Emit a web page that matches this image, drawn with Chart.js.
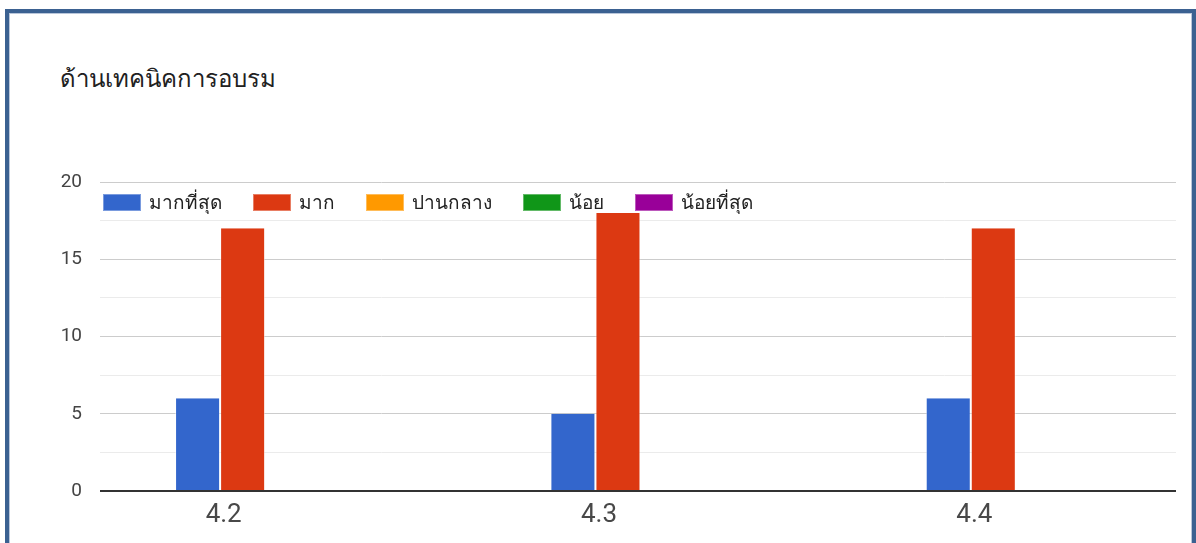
<!DOCTYPE html>
<html>
<head>
<meta charset="utf-8">
<script src="https://cdn.jsdelivr.net/npm/chart.js@4"></script>
<style>
  html, body { margin: 0; padding: 0; background: #fff; width: 1196px; height: 543px; overflow: hidden; }
  #frame { position: absolute; left: 5px; top: 9px; width: 1183px; height: 600px; border: 4px solid #3b6191; box-shadow: inset 1px 1px 0 #b9c6da, inset -1px 0 0 #b9c6da; background: #fff; }
  #title { position: absolute; left: 60px; top: 64px; font-family: Roboto, "Noto Sans", sans-serif; font-size: 24px; line-height: 30px; color: #212121; white-space: nowrap; }
  #clip { position: absolute; left: 0; top: 0; width: 1176px; height: 543px; overflow: hidden; }
  #wrap { position: absolute; left: 0; top: 0; width: 1240px; height: 543px; }
  #legend { position: absolute; left: 103px; top: 192px; display: flex; align-items: center; font-family: Roboto, "Noto Sans", sans-serif; font-size: 19px; line-height: 21px; color: #222; }
  #legend .item { display: flex; align-items: center; margin-right: 31px; }
  #legend .box { width: 38px; height: 17px; margin-right: 8px; box-sizing: border-box; border: 1px solid rgba(255,255,255,0.35); }
</style>
</head>
<body>
<div id="frame"></div>
<div id="title">ด้านเทคนิคการอบรม</div>
<div id="clip"><div id="wrap"><canvas id="c" width="1240" height="543"></canvas></div></div>
<div id="legend"></div>
<script>
const categories = ['4.2', '4.3', '4.4'];
const seriesNames = ['มากที่สุด', 'มาก', 'ปานกลาง', 'น้อย', 'น้อยที่สุด'];
const mostValues = [6, 5, 6];
const muchValues = [17, 18, 17];
const mediumValues = [0, 0, 0];
const fewValues = [0, 0, 0];
const fewestValues = [0, 0, 0];
const seriesColors = ['#3366cc', '#dc3912', '#ff9900', '#109618', '#990099'];
const yTicks = [0, 5, 10, 15, 20];

const seriesValues = [mostValues, muchValues, mediumValues, fewValues, fewestValues];

const legendEl = document.getElementById('legend');
seriesNames.forEach((n, i) => {
  const it = document.createElement('div'); it.className = 'item';
  const b = document.createElement('div'); b.className = 'box'; b.style.background = seriesColors[i];
  const t = document.createElement('span'); t.textContent = n;
  it.appendChild(b); it.appendChild(t); legendEl.appendChild(it);
});

new Chart(document.getElementById('c'), {
  type: 'bar',
  data: {
    labels: categories,
    datasets: seriesNames.map((n, i) => ({
      label: n,
      data: seriesValues[i],
      backgroundColor: seriesColors[i],
      borderColor: 'rgba(255,255,255,0.5)',
      borderWidth: { left: 1, right: 1, top: 0, bottom: 0 },
      categoryPercentage: 0.6,
      barPercentage: 1.0
    }))
  },
  options: {
    responsive: false,
    animation: false,
    devicePixelRatio: 1,
    layout: { padding: { left: 0, right: 14, top: 182, bottom: 0 } },
    plugins: { legend: { display: false }, tooltip: { enabled: false }, title: { display: false } },
    scales: {
      x: {
        grid: { display: false, drawTicks: false },
        border: { display: false },
        ticks: { color: '#484848', font: { family: 'Roboto', size: 26 }, padding: 9, labelOffset: -64 },
        afterFit: (s) => { s.height = 52; }
      },
      y: {
        min: yTicks[0], max: yTicks[yTicks.length - 1],
        border: { display: false },
        grid: {
          drawTicks: false,
          color: (ctx) => ctx.tick && ctx.tick.value === 0 ? '#333333' : (ctx.tick && ctx.tick.value % 5 === 0 ? '#cccccc' : '#ebebeb'),
          lineWidth: (ctx) => ctx.tick && ctx.tick.value === 0 ? 2 : 1
        },
        ticks: {
          stepSize: 2.5,
          color: '#444',
          font: { family: 'Roboto', size: 19 },
          padding: 18,
          callback: (v) => yTicks.includes(v) ? String(v) : ''
        },
        afterFit: (s) => { s.width = 100; }
      }
    }
  }
});
</script>
</body>
</html>
